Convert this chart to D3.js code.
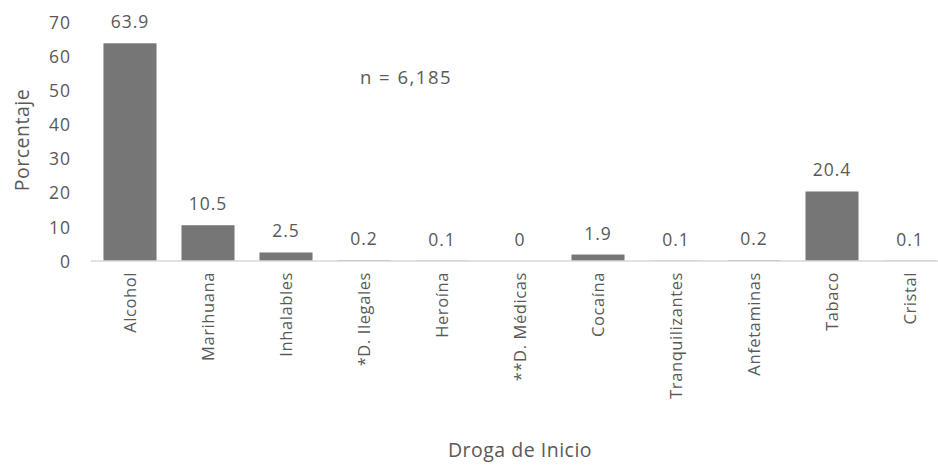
<!DOCTYPE html>
<html><head><meta charset="utf-8">
<script src="https://cdn.jsdelivr.net/npm/d3@7"></script>
<style>body{margin:0;background:#fff;} svg{display:block;} text{font-family:"Open Sans",sans-serif;fill:#595959;font-weight:400;}</style>
</head><body>
<svg id="c" width="938" height="465"></svg>
<script>
const categories = ["Alcohol","Marihuana","Inhalables","*D. Ilegales","Heroína","**D. Médicas","Cocaína","Tranquilizantes","Anfetaminas","Tabaco","Cristal"];
const values = [63.9,10.5,2.5,0.2,0.1,0,1.9,0.1,0.2,20.4,0.1];
const valueLabels = ["63.9","10.5","2.5","0.2","0.1","0","1.9","0.1","0.2","20.4","0.1"];
const yTicks = [0,10,20,30,40,50,60,70];

const svg = d3.select("#c");
const x = d3.scaleBand().domain(categories).range([91, 949]).paddingInner(0.32).paddingOuter(0.16);
const y = d3.scaleLinear().domain([0,70]).range([261, 22.5]);

svg.selectAll("rect.bar").data(values).join("rect")
  .attr("x",(d,i)=>x(categories[i])).attr("width",x.bandwidth())
  .attr("y",d=>y(d)).attr("height",d=>y(0)-y(d)).attr("fill","#767676");

svg.append("line").attr("x1",91).attr("x2",949).attr("y1",y(0)).attr("y2",y(0))
  .attr("stroke","#d9d9d9").attr("stroke-width",1.5);

const yAxis = svg.append("g").attr("transform","translate(71,0)")
  .call(d3.axisLeft(y).tickValues(yTicks).tickSize(0).tickPadding(0));
yAxis.select(".domain").remove();
yAxis.selectAll("text").style("font-size","17.5px").style("letter-spacing","1px").attr("fill","#595959").attr("dy","0.35em");

const xAxis = svg.append("g").attr("transform",`translate(0,${y(0)})`)
  .call(d3.axisBottom(x).tickSize(0).tickPadding(0));
xAxis.select(".domain").remove();
xAxis.selectAll("text").style("font-size","16.5px").style("letter-spacing","0.6px").attr("fill","#595959")
  .attr("transform","rotate(-90)").attr("text-anchor","end")
  .attr("x",-11).attr("y",0).attr("dy","0.35em");

svg.selectAll("text.vl").data(values).join("text").attr("class","vl")
  .attr("x",(d,i)=>x(categories[i])+x.bandwidth()/2).attr("y",d=>y(d)-15)
  .attr("text-anchor","middle").style("font-size","17.5px").style("letter-spacing","1px").text((d,i)=>valueLabels[i]);

svg.append("text").attr("transform","translate(29,140) rotate(-90)").attr("text-anchor","middle")
  .style("font-size","19.5px").style("letter-spacing","0.5px").text("Porcentaje");
svg.append("text").attr("x",520).attr("y",457).attr("text-anchor","middle")
  .style("font-size","19.5px").style("letter-spacing","0.5px").text("Droga de Inicio");
svg.append("text").attr("x",406).attr("y",84).attr("text-anchor","middle")
  .style("font-size","18.5px").style("letter-spacing","1.5px").text("n = 6,185");
</script>
</body></html>
